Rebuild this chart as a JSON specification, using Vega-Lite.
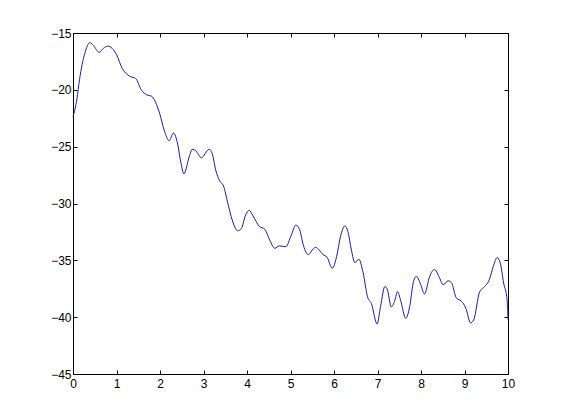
{
  "$schema": "https://vega.github.io/schema/vega-lite/v6.json",
  "width": 435,
  "height": 341,
  "autosize": "none",
  "padding": {"left": 73, "top": 33, "right": 53, "bottom": 46},
  "background": "white",
  "config": {
    "view": {"stroke": "black", "strokeWidth": 1},
    "axis": {
      "grid": false,
      "domainColor": "black",
      "tickColor": "black",
      "tickSize": -4,
      "labelFont": "Liberation Sans",
      "labelFontSize": 12,
      "labelColor": "black",
      "labelFlush": false,
      "labelOverlap": false,
      "titleFontSize": 0
    }
  },
  "data": {
    "values": [
      {"x": 0.0, "y": -22.4},
      {"x": 0.09, "y": -20.8},
      {"x": 0.15, "y": -19.1},
      {"x": 0.27, "y": -16.8},
      {"x": 0.39, "y": -15.85},
      {"x": 0.47, "y": -16.1},
      {"x": 0.6, "y": -16.7},
      {"x": 0.7, "y": -16.35},
      {"x": 0.8, "y": -16.15},
      {"x": 0.9, "y": -16.35},
      {"x": 1.0, "y": -16.9},
      {"x": 1.13, "y": -18.1},
      {"x": 1.3, "y": -18.8},
      {"x": 1.44, "y": -19.0},
      {"x": 1.57, "y": -20.0},
      {"x": 1.7, "y": -20.45},
      {"x": 1.8, "y": -20.55},
      {"x": 1.99, "y": -22.05},
      {"x": 2.1, "y": -23.6},
      {"x": 2.21, "y": -24.47},
      {"x": 2.31, "y": -23.8},
      {"x": 2.41, "y": -24.85},
      {"x": 2.48, "y": -26.4},
      {"x": 2.55, "y": -27.4},
      {"x": 2.67, "y": -25.9},
      {"x": 2.74, "y": -25.23},
      {"x": 2.82, "y": -25.35},
      {"x": 2.95, "y": -25.97},
      {"x": 3.13, "y": -25.23},
      {"x": 3.2, "y": -25.6},
      {"x": 3.28, "y": -27.05},
      {"x": 3.37, "y": -28.0},
      {"x": 3.46, "y": -28.46},
      {"x": 3.56, "y": -29.98},
      {"x": 3.66, "y": -31.45},
      {"x": 3.79, "y": -32.4},
      {"x": 3.87, "y": -32.2},
      {"x": 3.97, "y": -31.0},
      {"x": 4.05, "y": -30.6},
      {"x": 4.14, "y": -31.1},
      {"x": 4.28, "y": -32.0},
      {"x": 4.41, "y": -32.27},
      {"x": 4.52, "y": -33.2},
      {"x": 4.64, "y": -33.94},
      {"x": 4.74, "y": -33.73},
      {"x": 4.89, "y": -33.8},
      {"x": 5.02, "y": -32.77},
      {"x": 5.12, "y": -31.9},
      {"x": 5.21, "y": -32.3},
      {"x": 5.3, "y": -33.73},
      {"x": 5.41, "y": -34.5},
      {"x": 5.52, "y": -34.0},
      {"x": 5.58, "y": -33.85},
      {"x": 5.66, "y": -34.1},
      {"x": 5.75, "y": -34.5},
      {"x": 5.84, "y": -34.73},
      {"x": 5.96, "y": -35.7},
      {"x": 6.06, "y": -34.67},
      {"x": 6.15, "y": -32.9},
      {"x": 6.25, "y": -31.97},
      {"x": 6.32, "y": -32.47},
      {"x": 6.4, "y": -34.1},
      {"x": 6.48, "y": -35.2},
      {"x": 6.57, "y": -34.9},
      {"x": 6.67, "y": -36.1},
      {"x": 6.77, "y": -38.2},
      {"x": 6.86, "y": -38.8},
      {"x": 6.99, "y": -40.6},
      {"x": 7.07, "y": -39.07},
      {"x": 7.17, "y": -37.3},
      {"x": 7.22, "y": -37.5},
      {"x": 7.32, "y": -39.1},
      {"x": 7.4, "y": -38.5},
      {"x": 7.46, "y": -37.75},
      {"x": 7.53, "y": -38.5},
      {"x": 7.65, "y": -40.1},
      {"x": 7.74, "y": -39.07},
      {"x": 7.82, "y": -37.0},
      {"x": 7.89, "y": -36.4},
      {"x": 7.99, "y": -37.1},
      {"x": 8.08, "y": -37.95},
      {"x": 8.2, "y": -36.4},
      {"x": 8.31, "y": -35.8},
      {"x": 8.41, "y": -36.4},
      {"x": 8.51, "y": -37.15},
      {"x": 8.62, "y": -36.8},
      {"x": 8.7, "y": -36.96},
      {"x": 8.81, "y": -38.3},
      {"x": 8.93, "y": -38.6},
      {"x": 9.03, "y": -39.2},
      {"x": 9.14, "y": -40.5},
      {"x": 9.21, "y": -40.25},
      {"x": 9.35, "y": -37.75},
      {"x": 9.44, "y": -37.4},
      {"x": 9.58, "y": -36.6},
      {"x": 9.66, "y": -35.55},
      {"x": 9.75, "y": -34.76},
      {"x": 9.82, "y": -35.2},
      {"x": 9.9, "y": -37.0},
      {"x": 9.98, "y": -38.5},
      {"x": 10.0, "y": -40.2}
    ]
  },
  "layer": [
    {
      "mark": {"type": "line", "color": "#1c1ca0", "strokeWidth": 1, "interpolate": "monotone"},
      "encoding": {
        "x": {
          "field": "x", "type": "quantitative",
          "scale": {"domain": [0, 10], "nice": false},
          "axis": {"values": [0,1,2,3,4,5,6,7,8,9,10], "title": null, "labelPadding": 8}
        },
        "y": {
          "field": "y", "type": "quantitative",
          "scale": {"domain": [-45, -15], "nice": false, "zero": false},
          "axis": {"values": [-45,-40,-35,-30,-25,-20,-15], "title": null, "labelPadding": 6}
        }
      }
    },
    {
      "mark": {"type": "rule", "opacity": 0},
      "encoding": {
        "x": {
          "field": "x", "type": "quantitative",
          "axis": {"orient": "top", "values": [0,1,2,3,4,5,6,7,8,9,10], "labels": false, "title": null}
        },
        "y": {
          "field": "y", "type": "quantitative",
          "axis": {"orient": "right", "values": [-45,-40,-35,-30,-25,-20,-15], "labels": false, "title": null}
        }
      }
    }
  ],
  "resolve": {"axis": {"x": "independent", "y": "independent"}}
}
